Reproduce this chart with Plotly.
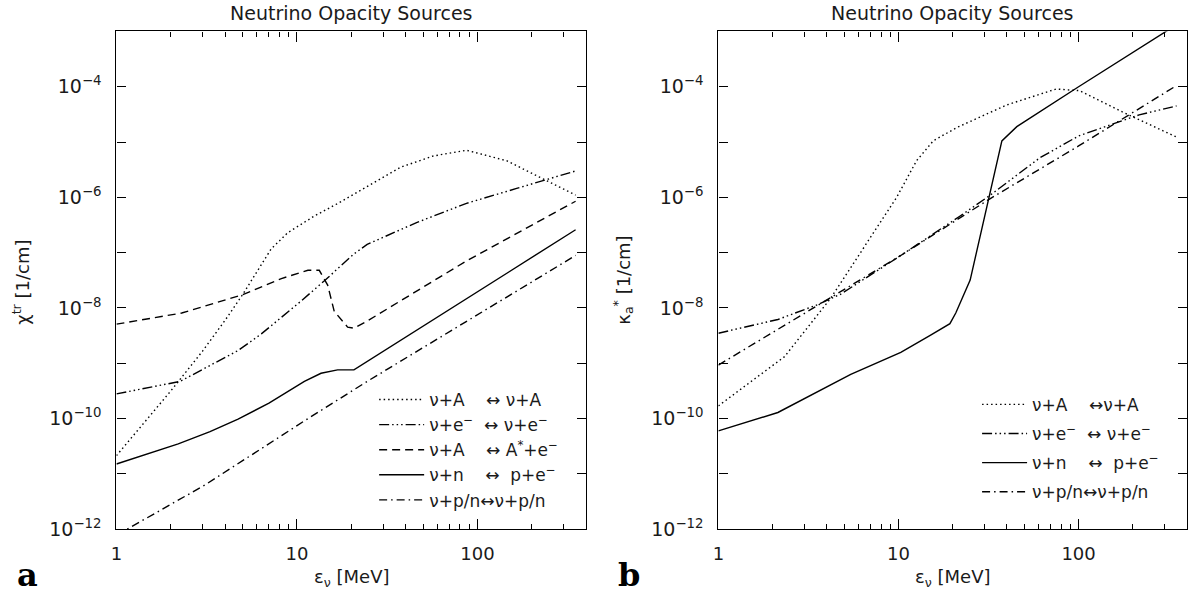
import numpy as np
import plotly.graph_objects as go

# ---------------- Panel a : transport opacity chi^tr [1/cm] ----------------
a_coh_E = [1, 2, 3, 4, 5, 6, 7.2, 8.9, 12.5, 17, 24, 37.5, 57, 87, 145, 241, 350]
a_coh_V = [2.14e-11, 3.16e-10, 1.66e-9, 6.0e-9, 1.74e-8, 4.5e-8, 1.17e-7, 2.3e-7,
           4.6e-7, 7.9e-7, 1.5e-6, 3.5e-6, 5.6e-6, 7.1e-6, 4.6e-6, 2.0e-6, 1.1e-6]

a_ele_E = [1, 2.25, 4.72, 6.35, 10.5, 14.2, 20.7, 24.5, 46, 87, 165, 350]
a_ele_V = [2.8e-10, 4.7e-10, 1.7e-9, 3.4e-9, 1.32e-8, 3.1e-8, 9.5e-8, 1.41e-7,
           3.5e-7, 7.8e-7, 1.45e-6, 3.0e-6]

a_nabs_E = [1, 2.3, 5, 8.2, 11.5, 13.3, 14.8, 16.1, 19.1, 20.7, 24.5, 87, 350]
a_nabs_V = [5.1e-9, 8.1e-9, 1.74e-8, 3.4e-8, 4.8e-8, 4.8e-8, 2.6e-8, 8.7e-9,
            4.5e-9, 4.3e-9, 5.8e-9, 7.1e-8, 8.5e-7]

a_n_E = [1, 2.2, 3.3, 4.72, 7, 11, 13.6, 16.8, 20.7, 87, 350]
a_n_V = [1.51e-11, 3.5e-11, 5.8e-11, 9.8e-11, 1.9e-10, 4.7e-10, 6.6e-10, 7.6e-10,
         7.6e-10, 1.48e-8, 2.6e-7]

a_pn_E = [1, 1.145, 3.09, 11, 24.5, 100, 350]
a_pn_V = [8.1e-13, 1.0e-12, 6.3e-12, 9.1e-11, 4.7e-10, 7.6e-9, 8.9e-8]

# ---------------- Panel b : absorption opacity kappa_a^* [1/cm] ----------------
b_coh_E = [1, 2.33, 4.21, 6.7, 9.8, 12.6, 15.6, 21, 40, 75, 101, 175, 350]
b_coh_V = [1.7e-10, 1.32e-9, 1.51e-8, 1.51e-7, 1.02e-6, 4.6e-6, 1.05e-5, 1.82e-5,
           4.7e-5, 9.1e-5, 8.5e-5, 3.5e-5, 1.23e-5]

b_ele_E = [1, 2.14, 3.56, 4.78, 10.3, 17, 22, 32, 61, 100, 217, 350]
b_ele_V = [3.5e-9, 6.2e-9, 1.15e-8, 1.78e-8, 8.9e-8, 2.6e-7, 4.6e-7, 1.07e-6,
           5.2e-6, 1.29e-5, 3.1e-5, 4.5e-5]

b_n_E = [1, 2.14, 5.43, 10.3, 15, 19.3, 20.8, 25, 37.5, 45.4, 100, 304, 350]
b_n_V = [6.0e-11, 1.29e-10, 6.3e-10, 1.58e-9, 3.2e-9, 5.2e-9, 8.1e-9,
         3.2e-8, 1.05e-5, 1.9e-5, 1.0e-4, 1.0e-3, 1.32e-3]

b_pn_E = [1, 4.43, 10.3, 32, 61, 100, 350]
b_pn_V = [9.3e-10, 1.74e-8, 8.9e-8, 9.3e-7, 3.3e-6, 8.5e-6, 1.05e-4]

x_ticks = [1, 10, 100]
x_ticktext = ["1", "10", "100"]
x_minor = [2, 3, 4, 5, 6, 7, 8, 9, 20, 30, 40, 50, 60, 70, 80, 90, 200, 300]
y_exps = list(range(-12, -2))
y_ticks = [10.0 ** k for k in y_exps]
y_ticktext = [("10<sup>\u2212%d</sup>" % (-k)) if (k % 2 == 0 and k <= -4) else "" for k in y_exps]

NB = "\u00a0"
M = "<sup>\u2212</sup>"
names_a = ["\u03bd+A" + NB * 4 + "\u2194 \u03bd+A",
           "\u03bd+e" + M + NB * 2 + "\u2194 \u03bd+e" + M,
           "\u03bd+A" + NB * 4 + "\u2194 A<sup>*</sup>+e" + M,
           "\u03bd+n" + NB * 4 + "\u2194 " + NB + "p+e" + M,
           "\u03bd+p/n\u2194\u03bd+p/n"]
names_b = ["\u03bd+A" + NB * 4 + "\u2194\u03bd+A",
           "\u03bd+e" + M + NB * 2 + "\u2194 \u03bd+e" + M,
           "\u03bd+n" + NB * 4 + "\u2194 " + NB + "p+e" + M,
           "\u03bd+p/n\u2194\u03bd+p/n"]

DOT = "1.5px,3px"
DADOT3 = "10px,3px,1.5px,3px,1.5px,3px,1.5px,3px"
DASH = "8px,5px"
DADOT = "8px,4px,1.5px,4px"
LW = 1.4
BLACK = "#000000"

fig = go.Figure()

series_a = [(a_coh_E, a_coh_V, DOT), (a_ele_E, a_ele_V, DADOT3), (a_nabs_E, a_nabs_V, DASH),
            (a_n_E, a_n_V, "solid"), (a_pn_E, a_pn_V, DADOT)]
for i, (ex, vy, ds) in enumerate(series_a):
    fig.add_trace(go.Scatter(x=ex, y=vy, mode="lines", name=names_a[i],
                             line=dict(color=BLACK, width=LW, dash=ds),
                             xaxis="x", yaxis="y", legend="legend",
                             legendgroup="a%d" % i))

series_b = [(b_coh_E, b_coh_V, DOT), (b_ele_E, b_ele_V, DADOT3),
            (b_n_E, b_n_V, "solid"), (b_pn_E, b_pn_V, DADOT)]
for i, (ex, vy, ds) in enumerate(series_b):
    fig.add_trace(go.Scatter(x=ex, y=vy, mode="lines", name=names_b[i],
                             line=dict(color=BLACK, width=LW, dash=ds),
                             xaxis="x2", yaxis="y2", legend="legend2",
                             legendgroup="b%d" % i))

W, H = 1191, 607
FONT = "DejaVu Sans"
TXT = "#1a1a1a"


def px_x(p):
    return p / W


def px_y(p):
    return (H - p) / H


xr = [0, np.log10(400)]
yr = [-12, -3]

xcommon = dict(type="log", range=xr, showline=True, linecolor=BLACK, linewidth=1.3,
               mirror="ticks", ticks="inside", ticklen=10, tickwidth=1.2, tickcolor=BLACK,
               tickvals=x_ticks, ticktext=x_ticktext, showgrid=False, zeroline=False,
               ticklabelstandoff=8,
               tickfont=dict(family=FONT, size=18, color=TXT),
               minor=dict(ticks="inside", ticklen=5, tickwidth=1, tickcolor=BLACK,
                          tickvals=x_minor, showgrid=False))
ycommon = dict(type="log", range=yr, showline=True, linecolor=BLACK, linewidth=1.3,
               mirror="ticks", ticks="inside", ticklen=9, tickwidth=1.2, tickcolor=BLACK,
               tickvals=y_ticks, ticktext=y_ticktext, showgrid=False, zeroline=False,
               ticklabelstandoff=10,
               tickfont=dict(family=FONT, size=19, color=TXT))

legcommon = dict(font=dict(family=FONT, size=17, color=TXT), bgcolor="rgba(0,0,0,0)",
                 borderwidth=0, itemwidth=45, traceorder="grouped",
                 xanchor="left", yanchor="top", itemclick=False)

fig.update_layout(
    width=W, height=H, autosize=False,
    margin=dict(l=0, r=0, t=0, b=0),
    paper_bgcolor="white", plot_bgcolor="white",
    showlegend=True,
    xaxis=dict(domain=[px_x(111), px_x(583)], anchor="y", **xcommon),
    yaxis=dict(domain=[px_y(539), px_y(32)], anchor="x", **ycommon),
    xaxis2=dict(domain=[px_x(716), px_x(1187)], anchor="y2", **xcommon),
    yaxis2=dict(domain=[px_y(539), px_y(32)], anchor="x2", **ycommon),
    legend=dict(x=px_x(370), y=px_y(389), tracegroupgap=0, **legcommon),
    legend2=dict(x=px_x(976), y=px_y(394), tracegroupgap=4, **legcommon),
)

ann = []
for cx in (347, 951):
    ann.append(dict(text="Neutrino Opacity Sources", x=px_x(cx), y=px_y(13), xref="paper",
                    yref="paper", showarrow=False, xanchor="center", yanchor="middle",
                    font=dict(family=FONT, size=19, color=TXT)))
    ann.append(dict(text="\u03b5<sub>\u03bd</sub> [MeV]", x=px_x(cx), y=px_y(589), xref="paper",
                    yref="paper", showarrow=False, xanchor="center", yanchor="middle",
                    font=dict(family=FONT, size=18, color=TXT)))
ann.append(dict(text="\u03c7<sup>tr</sup> [1/cm]", x=px_x(15), y=px_y(287), xref="paper",
                yref="paper", showarrow=False, textangle=-90, xanchor="center", yanchor="middle",
                font=dict(family=FONT, size=18, color=TXT)))
ann.append(dict(text="\u03ba<sub>a</sub><sup>*</sup> [1/cm]", x=px_x(620), y=px_y(285), xref="paper",
                yref="paper", showarrow=False, textangle=-90, xanchor="center", yanchor="middle",
                font=dict(family=FONT, size=18, color=TXT)))
ann.append(dict(text="<b>a</b>", x=px_x(22), y=0, xref="paper", yref="paper",
                showarrow=False, xanchor="center", yanchor="bottom",
                font=dict(family="DejaVu Serif", size=32, color="#000")))
ann.append(dict(text="<b>b</b>", x=px_x(626), y=0, xref="paper", yref="paper",
                showarrow=False, xanchor="center", yanchor="bottom",
                font=dict(family="DejaVu Serif", size=32, color="#000")))
fig.update_layout(annotations=ann)

fig.write_html("out.html")
